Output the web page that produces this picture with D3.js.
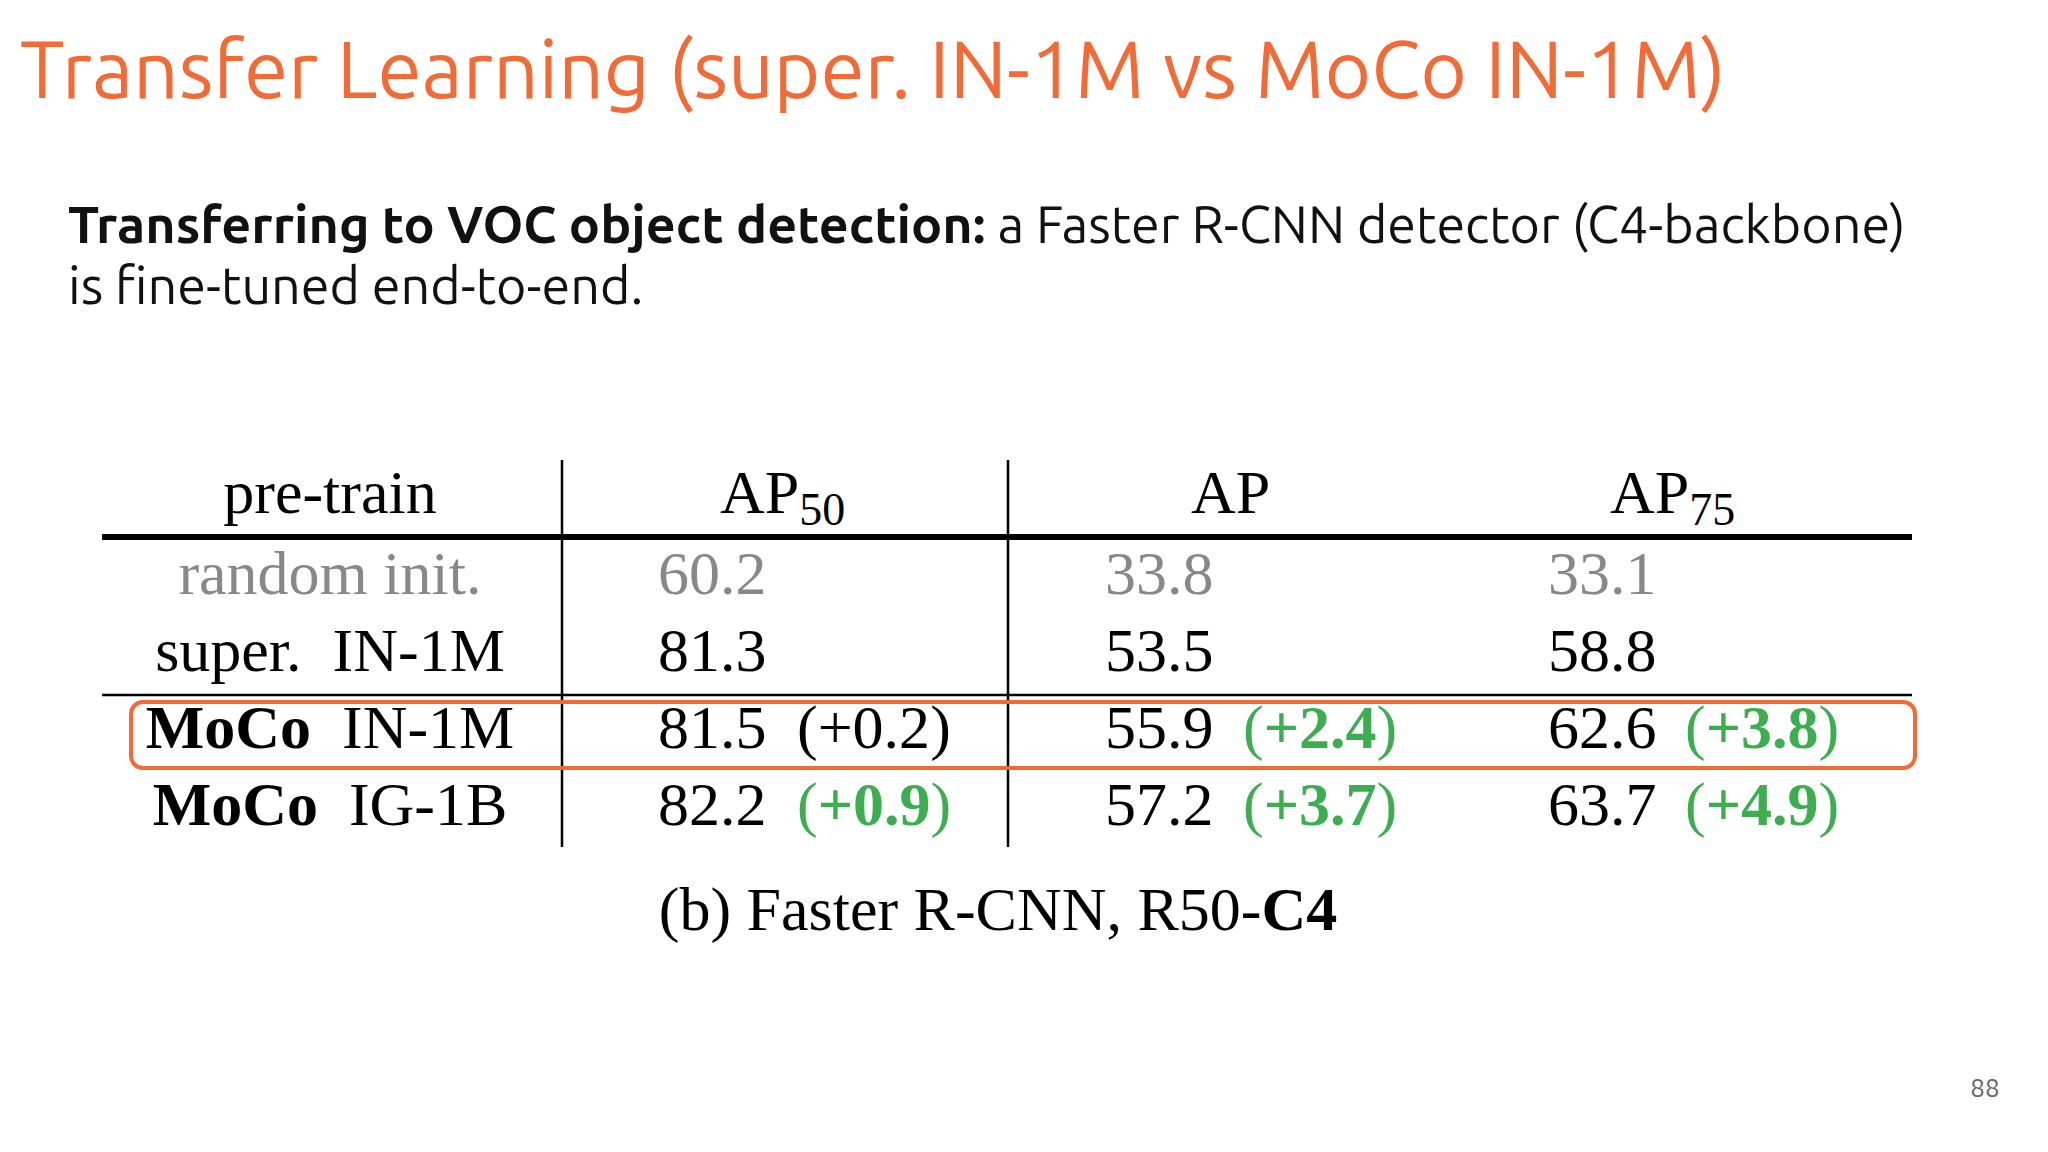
<!DOCTYPE html>
<html>
<head>
<meta charset="utf-8">
<script src="https://cdn.jsdelivr.net/npm/d3@7"></script>
<style>
  body { margin: 0; background: #fff; }
</style>
</head>
<body>
<script>
// table values
var preTrain = ["random init.", "super. IN-1M", "MoCo IN-1M", "MoCo IG-1B"];
var ap50 = [60.2, 81.3, 81.5, 82.2];
var ap = [33.8, 53.5, 55.9, 57.2];
var ap75 = [33.1, 58.8, 62.6, 63.7];
var ap50Delta = [null, null, "+0.2", "+0.9"];
var apDelta = [null, null, "+2.4", "+3.7"];
var ap75Delta = [null, null, "+3.8", "+4.9"];
var columns = ["pre-train", "AP50", "AP", "AP75"];

function show_table(width, height) {
    var svg = d3.select("body").append("svg")
        .attr("width", width)
        .attr("height", height);

    var orange = "#f26a35", green = "#3dae4f", grey = "#888";
    var serif = "'Liberation Serif', 'Times New Roman', serif";
    var sans = "Ubuntu, 'Open Sans', 'Noto Sans', sans-serif";

    // title + description
    svg.append("text").attr("x", 20).attr("y", 98)
        .attr("font-family", sans).attr("font-size", 80).attr("fill", orange)
        .text("Transfer Learning (super. IN-1M vs MoCo IN-1M)");

    var sub = svg.append("text").attr("x", 68).attr("y", 243)
        .attr("font-family", sans).attr("font-size", 52).attr("fill", "#111");
    sub.append("tspan").attr("font-weight", "bold").text("Transferring to VOC object detection:");
    sub.append("tspan").text(" a Faster R-CNN detector (C4-backbone)");
    svg.append("text").attr("x", 68).attr("y", 304)
        .attr("font-family", sans).attr("font-size", 52).attr("fill", "#111")
        .text("is fine-tuned end-to-end.");

    // scales
    var y = d3.scalePoint().domain(d3.range(preTrain.length)).range([594, 825]);
    var xLeft = d3.scaleOrdinal().domain(columns).range([330, 658, 1105, 1548]);
    var xDelta = d3.scaleOrdinal().domain(columns.slice(1)).range([797, 1243, 1685]);
    var fs = 62;

    // header
    var hy = 513;
    svg.append("text").attr("x", xLeft("pre-train")).attr("y", hy).attr("text-anchor", "middle")
        .attr("font-family", serif).attr("font-size", fs).text("pre-train");
    [["AP50", 720, "50"], ["AP", 1191, null], ["AP75", 1610, "75"]].forEach(function(h) {
        var t = svg.append("text").attr("x", h[1]).attr("y", hy)
            .attr("font-family", serif).attr("font-size", fs).text("AP");
        if (h[2]) t.append("tspan").attr("font-size", 46).attr("dy", 12).text(h[2]);
    });

    // rules
    svg.append("line").attr("x1", 102).attr("x2", 1912).attr("y1", 537).attr("y2", 537)
        .attr("stroke", "#000").attr("stroke-width", 6);
    svg.append("line").attr("x1", 102).attr("x2", 1912).attr("y1", 695).attr("y2", 695)
        .attr("stroke", "#000").attr("stroke-width", 2.5);
    [562, 1008].forEach(function(x) {
        svg.append("line").attr("x1", x).attr("x2", x).attr("y1", 460).attr("y2", 847)
            .attr("stroke", "#000").attr("stroke-width", 2.5);
    });

    // highlight
    svg.append("rect").attr("x", 131).attr("y", 702).attr("width", 1784).attr("height", 66)
        .attr("rx", 12).attr("fill", "none").attr("stroke", orange).attr("stroke-width", 4);

    // rows
    preTrain.forEach(function(name, i) {
        var col = i === 0 ? grey : "#000";
        var t = svg.append("text").attr("x", xLeft("pre-train")).attr("y", y(i))
            .attr("text-anchor", "middle").attr("font-family", serif).attr("font-size", fs)
            .attr("fill", col).attr("xml:space", "preserve");
        if (name.indexOf("MoCo") === 0) {
            t.append("tspan").attr("font-weight", "bold").text("MoCo");
            t.append("tspan").text("  " + name.slice(5));
        } else if (name.indexOf("super.") === 0) {
            t.text("super.  IN-1M");
        } else t.text(name);

        [["AP50", ap50, ap50Delta], ["AP", ap, apDelta], ["AP75", ap75, ap75Delta]].forEach(function(c) {
            svg.append("text").attr("x", xLeft(c[0])).attr("y", y(i))
                .attr("font-family", serif).attr("font-size", fs).attr("fill", col)
                .text(c[1][i].toFixed(1));
            var d = c[2][i];
            if (d) {
                var plain = (c[0] === "AP50" && i === 2);
                var dt = svg.append("text").attr("x", xDelta(c[0])).attr("y", y(i))
                    .attr("font-family", serif).attr("font-size", fs)
                    .attr("fill", plain ? "#000" : green);
                dt.append("tspan").text("(");
                dt.append("tspan").attr("font-weight", plain ? "normal" : "bold").text(d);
                dt.append("tspan").text(")");
            }
        });
    });

    // caption
    var cap = svg.append("text").attr("x", 998).attr("y", 930).attr("text-anchor", "middle")
        .attr("font-family", serif).attr("font-size", fs);
    cap.append("tspan").text("(b) Faster R-CNN, R50-");
    cap.append("tspan").attr("font-weight", "bold").text("C4");

    svg.append("text").attr("x", 1985).attr("y", 1097).attr("text-anchor", "middle")
        .attr("font-family", sans).attr("font-size", 26).attr("fill", "#666").text("88");
}

document.addEventListener("DOMContentLoaded", function() { show_table(2048, 1152); });
</script>
</body>
</html>
